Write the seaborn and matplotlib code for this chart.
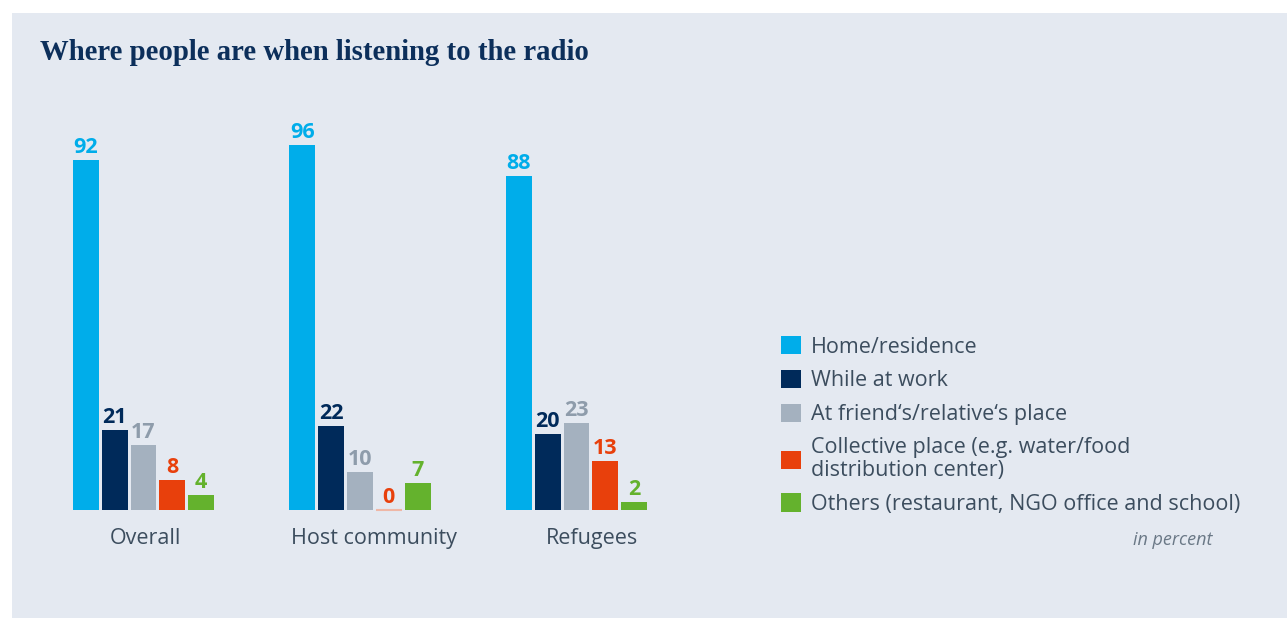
import matplotlib
matplotlib.use("Agg")
import matplotlib.pyplot as plt
from matplotlib.patches import Rectangle, Patch
from matplotlib.transforms import ScaledTranslation
import seaborn as sns
import pandas as pd

# Survey data: share of respondents (percent) by listening location
groups = ["Overall", "Host community", "Refugees"]
locations = [
    "Home/residence",
    "While at work",
    "At friend\u2018s/relative\u2018s place",
    "Collective place (e.g. water/food\ndistribution center)",
    "Others (restaurant, NGO office and school)",
]
home = [92, 96, 88]
work = [21, 22, 20]
friends = [17, 10, 23]
collective = [8, 0, 13]
others = [4, 7, 2]

bar_colors = ["#00adea", "#002a5a", "#a4b1bf", "#e8400c", "#64b22d"]
label_colors = ["#00adea", "#002a5a", "#8e9cab", "#e8400c", "#64b22d"]

panel = "#e4e9f1"
text_col = "#3c4d5e"

rows = []
for loc, vals in zip(locations, [home, work, friends, collective, others]):
    for g, v in zip(groups, vals):
        rows.append({"group": g, "location": loc, "value": v})
df = pd.DataFrame(rows)

sns.set_theme(style="white")
plt.rcParams["font.family"] = ["Open Sans", "DejaVu Sans"]

W, H = 1287, 618
fig = plt.figure(figsize=(W / 100, H / 100), dpi=100, facecolor="white")
fig.patches.append(Rectangle((12 / W, 0), 1 - 12 / W, (H - 13) / H,
                             transform=fig.transFigure, facecolor=panel,
                             edgecolor="none", zorder=-10))

# axes placed in pixel terms: x 40..740, y 100..510 (from top)
ax = fig.add_axes([40 / W, (H - 510) / H, 700 / W, 410 / H])
ax.set_facecolor("none")

sns.barplot(data=df, x="group", y="value", hue="location", order=groups,
            hue_order=locations, palette=bar_colors, width=0.665, gap=0.1,
            saturation=1, ax=ax, legend=False, linewidth=0)

ax.set_xlim((40 - 143.5) / 216.5, (740 - 143.5) / 216.5)
ax.set_ylim(0, 107.9)

for cont, col in zip(ax.containers, label_colors):
    ax.bar_label(cont, fmt="%d", padding=1.5, color=col, fontsize=15.5,
                 fontweight="bold")
    for bar in cont:
        if bar.get_height() == 0:
            bar.set_edgecolor("#efb7a6")
            bar.set_linewidth(1.5)
            bar.set_clip_on(False)

sns.despine(ax=ax, left=True, bottom=True)
ax.set_yticks([])
ax.set_xlabel("")
ax.set_ylabel("")
ax.tick_params(axis="x", length=0, pad=13, labelsize=15.5, labelcolor=text_col)

# group labels sit slightly right of their bar groups
for lbl, dx in zip(ax.get_xticklabels(), [2, 14, 15]):
    lbl.set_transform(lbl.get_transform() + ScaledTranslation(dx / 100, 0, fig.dpi_scale_trans))

handles = [Patch(facecolor=c, edgecolor="none") for c in bar_colors]
leg = fig.legend(handles, locations, loc="upper left",
                 bbox_to_anchor=(781 / W, 1 - 336 / H), frameon=False,
                 fontsize=15.5, labelcolor=text_col, handlelength=0.93,
                 handleheight=0.93, handletextpad=0.47, labelspacing=0.57,
                 borderpad=0, borderaxespad=0)
for t in leg.get_texts():
    t.set_linespacing(1.1)

fig.text(40 / W, 1 - 59.5 / H, "Where people are when listening to the radio",
         family=["Liberation Serif", "DejaVu Serif"], fontweight="bold",
         fontsize=20.7, color="#0c2f5b", va="baseline", ha="left")

fig.text(1212 / W, 1 - 540 / H, "in percent", style="italic", fontsize=13,
         color="#6a7886", ha="right", va="center")

fig.savefig("out.png", dpi=100, facecolor="white")
